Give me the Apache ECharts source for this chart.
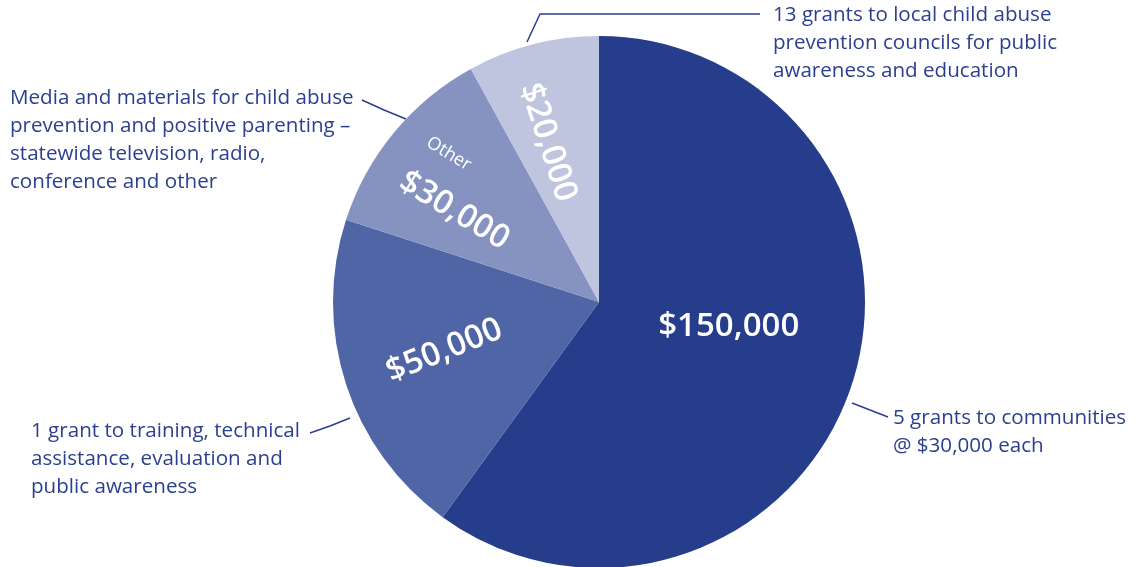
<!DOCTYPE html>
<html>
<head>
<meta charset="utf-8">
<script src="https://cdn.jsdelivr.net/npm/echarts@6/dist/echarts.min.js"></script>
<style>html,body{margin:0;padding:0;background:#fff}#c{width:1135px;height:567px}</style>
</head>
<body>
<div id="c"></div>
<script>
// ---- data ----
var values = [150000, 50000, 30000, 20000];
var valueLabels = ['$150,000', '$50,000', '$30,000', '$20,000'];
var descriptions = [
  '5 grants to communities\n@ $30,000 each',
  '1 grant to training, technical\nassistance, evaluation and\npublic awareness',
  'Media and materials for child abuse\nprevention and positive parenting \u2013\nstatewide television, radio,\nconference and other',
  '13 grants to local child abuse\nprevention councils for public\nawareness and education'
];
var subLabels = ['', '', 'Other', ''];
var colors = ['#253d8b', '#4f65a5', '#8693c1', '#bfc4df'];

// ---- layout (annotation placement) ----
var CX = 599, CY = 302, R = 266;
var TEXT_COLOR = '#2b3f8f';
var FONT = 'Open Sans';
var callouts = [
  { x: 893, y: 404, line: [[888, 417], [870, 410], [852, 403]] },
  { x: 31, y: 417, line: [[350, 418], [330, 426], [310, 433]] },
  { x: 10, y: 84, line: [[406, 119], [384, 110], [362, 100]] },
  { x: 773, y: 1, line: [[527, 42], [540, 14], [760, 14]] }
];
var inner = [
  { rotate: 0, dx: -30, dy: -27, size: 33 },
  { rotate: 22, dx: 6, dy: -1, size: 33 },
  { rotate: -31, dx: -5, dy: -6, size: 33 },
  { rotate: -72, dx: 0, dy: 10, size: 33 }
];

var chart = echarts.init(document.getElementById('c'));

var outerData = values.map(function (v, i) {
  return { value: v, name: descriptions[i], itemStyle: { color: colors[i] } };
});
var innerData = values.map(function (v, i) {
  var txt = subLabels[i] ? '{s|' + subLabels[i] + '}\n{b|' + valueLabels[i] + '}' : '{b|' + valueLabels[i] + '}';
  return {
    value: v,
    name: valueLabels[i],
    label: {
      formatter: txt,
      rotate: inner[i].rotate,
      rich: {
        b: { fontFamily: FONT, fontSize: inner[i].size, fontWeight: 600, color: '#fff', lineHeight: inner[i].size + 4 },
        s: { fontFamily: FONT, fontSize: 18, color: '#fff', lineHeight: 55, padding: [0, 68, 0, 0] }
      }
    }
  };
});

chart.setOption({
  animation: false,
  series: [
    {
      type: 'pie',
      center: [CX, CY],
      radius: [0, R],
      startAngle: 90,
      clockwise: true,
      avoidLabelOverlap: false,
      silent: true,
      data: outerData,
      itemStyle: { borderWidth: 0 },
      label: {
        show: true,
        position: 'outside',
        formatter: '{b}',
        fontFamily: FONT,
        fontSize: 20.6,
        lineHeight: 28,
        color: TEXT_COLOR,
        align: 'left'
      },
      labelLine: { show: true, length: 20, length2: 20, lineStyle: { color: TEXT_COLOR, width: 1.5 } },
      labelLayout: function (p) {
        var c = callouts[p.dataIndex];
        return { x: c.x, y: c.y, align: 'left', verticalAlign: 'top', labelLinePoints: c.line };
      }
    },
    {
      type: 'pie',
      center: [CX, CY],
      radius: [64, R],
      startAngle: 90,
      clockwise: true,
      avoidLabelOverlap: false,
      silent: true,
      data: innerData,
      itemStyle: { color: 'rgba(0,0,0,0)', borderWidth: 0 },
      label: { show: true, position: 'inside' },
      labelLine: { show: false },
      labelLayout: function (p) {
        var c = inner[p.dataIndex];
        return { dx: c.dx, dy: c.dy };
      }
    }
  ]
});
</script>
</body>
</html>
